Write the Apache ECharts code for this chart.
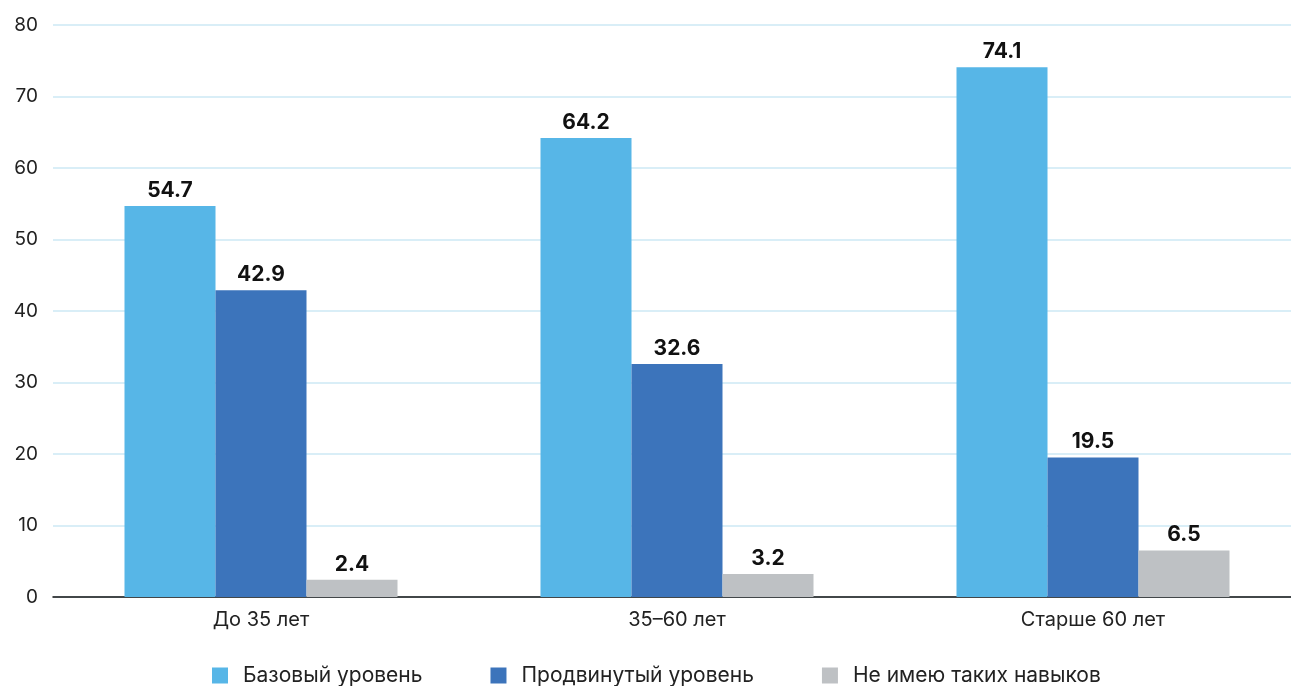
<!DOCTYPE html>
<html>
<head>
<meta charset="utf-8">
<script src="https://cdn.jsdelivr.net/npm/echarts@6/dist/echarts.min.js"></script>
<style>
	html, body { margin: 0; padding: 0; background: #fff; }
	#charts { width: 1291px; height: 686px; }
</style>
</head>
<body>
<div id="charts"></div>
<script>
const categories = ['До 35 лет', '35–60 лет', 'Старше 60 лет'];
const seriesNames = ['Базовый уровень', 'Продвинутый уровень', 'Не имею таких навыков'];
const basic = [54.7, 64.2, 74.1];
const advanced = [42.9, 32.6, 19.5];
const none = [2.4, 3.2, 6.5];
const colors = ['#57b6e7', '#3c74bb', '#bec1c4'];

const myChart = echarts.init(document.getElementById('charts'));

const seriesList = [basic, advanced, none].map((data, i) => ({
	type: 'bar',
	name: seriesNames[i],
	data: data,
	barWidth: 91,
	barGap: '0%',
	itemStyle: { color: colors[i] },
	label: {
		show: true,
		position: 'top',
		distance: 5,
		color: '#111',
		fontFamily: 'Inter',
		fontWeight: 'bold',
		fontSize: 21,
		formatter: (p) => p.value.toFixed(1)
	}
}));

const option = {
	animation: false,
	color: colors,
	textStyle: { fontFamily: 'Inter' },
	grid: {
		left: 53,
		top: 25,
		width: 1248,
		height: 572,
		outerBoundsMode: 'none'
	},
	legend: {
		bottom: 0,
		left: 212,
		padding: 0,
		itemWidth: 16,
		itemHeight: 16,
		itemGap: 68,
		icon: 'rect',
		textStyle: { fontSize: 21, color: '#222', fontFamily: 'Inter', padding: [0, 0, 0, 10] },
		data: seriesNames
	},
	xAxis: {
		type: 'category',
		data: categories,
		axisLine: { lineStyle: { color: '#111', width: 1.5 } },
		axisTick: { show: false },
		axisLabel: { fontSize: 20, color: '#222', margin: 13 }
	},
	yAxis: {
		type: 'value',
		min: 0,
		max: 80,
		interval: 10,
		axisLine: { show: false },
		axisTick: { show: false },
		axisLabel: { fontSize: 19, color: '#222', margin: 15 },
		splitLine: { lineStyle: { color: '#cde8f5', width: 1.5 } }
	},
	series: seriesList
};

myChart.setOption(option);
</script>
</body>
</html>
